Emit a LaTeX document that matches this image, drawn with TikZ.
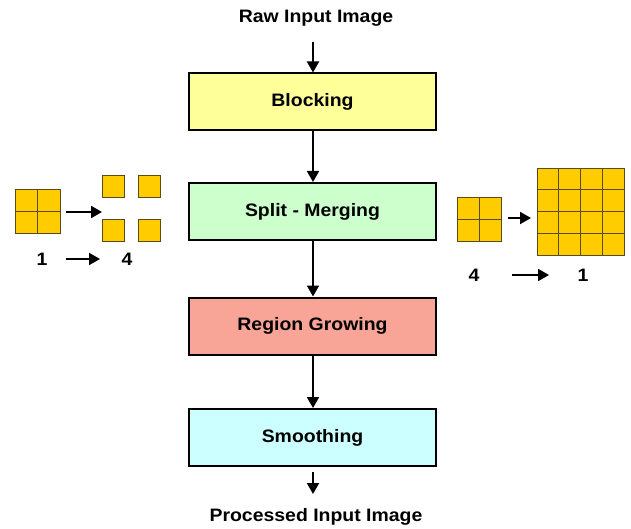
\documentclass[tikz,border=0pt]{standalone}
\usepackage{fontspec}
\setmainfont[FakeStretch=1.08]{Liberation Sans}
\usetikzlibrary{arrows.meta}
\begin{document}
\begin{tikzpicture}[x=1pt,y=-1pt,
  stage/.style={draw=black,line width=2pt,minimum width=247pt,minimum height=57pt,inner sep=0pt,font=\fontsize{18}{21}\selectfont\bfseries},
  lbl/.style={font=\fontsize{18}{21}\selectfont\bfseries,inner sep=0pt},
  flow/.style={-{Triangle[length=11pt,width=12pt]},line width=2pt},
  cell/.style={fill=cellgold,draw=celledge,line width=0.8pt}]
\definecolor{yel}{HTML}{FFFF99}
\definecolor{grn}{HTML}{CCFFCC}
\definecolor{red}{HTML}{F8A597}
\definecolor{cya}{HTML}{CCFFFF}
\definecolor{cellgold}{HTML}{FFCC00}
\definecolor{celledge}{HTML}{5A4A1A}
\useasboundingbox (0,0) rectangle (631,529);
% main flow
\node[lbl] (raw) at (316,18) {Raw Input Image};
\coordinate (rawa) at (313,42);
\node[stage,fill=yel] (b1) at (312.5,102) {Blocking};
\node[stage,fill=grn] (b2) at (312.5,211.5) {Split - Merging};
\node[stage,fill=red] (b3) at (312.5,326) {Region Growing};
\node[stage,fill=cya] (b4) at (312.5,437.5) {Smoothing};
\coordinate (outa) at (313,494);
\node[lbl] (out) at (316,517) {Processed Input Image};
\draw[flow] (rawa) -- (b1.north -| rawa);
\draw[flow] (b1.south -| rawa) -- (b2.north -| rawa);
\draw[flow] (b2.south -| rawa) -- (b3.north -| rawa);
\draw[flow] (b3.south -| rawa) -- (b4.north -| rawa);
\draw[flow] ([yshift=-5pt]b4.south -| rawa) -- (outa);
% left: split 1 -> 4
\draw[cell] (15,189) rectangle (60,233);
\draw[celledge,line width=0.8pt] (37.5,189) -- (37.5,233) (15,211) -- (60,211);
\coordinate (ls1) at (66,212);
\coordinate (ls2) at (102,212);
\draw[flow] (ls1) -- (ls2);
\draw[cell] (102,175) rectangle (124,197);
\draw[cell] (138,175) rectangle (160,197);
\draw[cell] (102,219) rectangle (124,241);
\draw[cell] (138,219) rectangle (160,241);
\node[lbl] (one) at (42,259) {1};
\node[lbl] (four) at (127,259) {4};
\draw[flow] (66,259) -- (100,259);
% right: merge 4 -> 1
\draw[cell] (457,197) rectangle (501,241);
\draw[celledge,line width=0.8pt] (479,197) -- (479,241) (457,219) -- (501,219);
\draw[flow] (508,218) -- (531,218);
\draw[cell] (537,168) rectangle (624,255);
\foreach \i in {1,2,3} {
  \draw[celledge,line width=0.8pt] (537+\i*21.75,168) -- (537+\i*21.75,255);
  \draw[celledge,line width=0.8pt] (537,168+\i*21.75) -- (624,168+\i*21.75);
}
\node[lbl] (four2) at (474,275) {4};
\node[lbl] (one2) at (583,275) {1};
\draw[flow] (512,275) -- (549,275);
\end{tikzpicture}
\end{document}
